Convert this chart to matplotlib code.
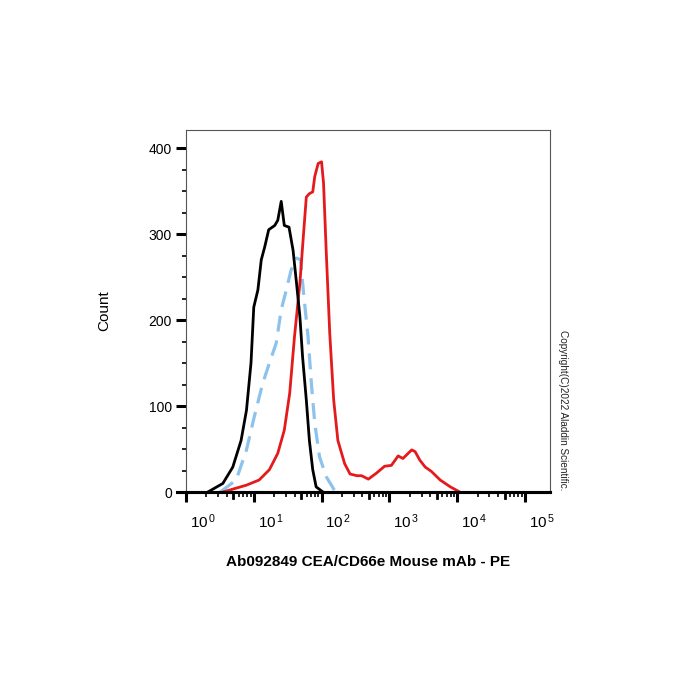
import matplotlib
matplotlib.use('Agg')
import matplotlib.pyplot as plt
import matplotlib.transforms as mtransforms
from matplotlib.ticker import FixedLocator, MultipleLocator, NullFormatter
import numpy as np

plt.rcParams['font.family'] = ['Liberation Sans', 'DejaVu Sans']

# isotype-like control (black)
black_x = [2.1, 3.5, 4.9, 6.5, 7.8, 9.1, 10, 11.5, 12.9, 14.5, 16.6, 20.4, 22.6, 25.4,
           28.2, 33.1, 38, 42.7, 47.9, 52.5, 59.6, 66.1, 74.1, 83.2, 105]
black_y = [0, 10, 29, 60, 95, 150, 215, 235, 270, 285, 305, 310, 316, 338,
           310, 308, 281, 243, 204, 157, 107, 60, 26, 6, 0]

# stained sample (red)
red_x = [3.5, 7.8, 12, 17, 22.6, 28.2, 33.9, 39.8, 47.9, 54.3, 59.6, 66.1, 74.1, 79.4,
         89.1, 100, 107, 117, 132, 151, 174, 219, 263, 331, 389, 490, 646, 851, 1072,
         1349, 1585, 2138, 2399, 2818, 3388, 4169, 5623, 7943, 10965]
red_y = [0, 8, 14, 26, 45, 72, 115, 180, 243, 301, 343, 347, 349, 367,
         382, 384, 359, 281, 185, 107, 60, 33, 21, 19, 19, 15, 22, 30, 31,
         42, 39, 49, 47, 37, 29, 24, 14, 6, 0]

# blank (blue dashed)
blue_x = [3.2, 5.5, 7.8, 10.2, 13.5, 17, 21.4, 25.4, 30.2, 35.5, 42.7, 49, 54.3,
          63.1, 70.8, 79.4, 93.3, 117, 155, 166]
blue_y = [0, 14, 49, 88, 126, 150, 173, 212, 235, 258, 272, 270, 231,
          181, 126, 80, 41, 18, 2, 0]

decades = [1, 10, 100, 1000, 10000, 100000]
decade_labels = [r'$\mathregular{10^{\,%d}}$' % k for k in range(6)]

fig = plt.figure(figsize=(7, 7), dpi=100)
ax = fig.add_axes([0.2657, 0.2971, 0.52, 0.5172])

ax.plot(blue_x, blue_y, color='#8cc2ec', lw=2.3, dashes=(5, 2.8), zorder=2)
ax.plot(red_x, red_y, color='#e41a1c', lw=2.0, zorder=3)
ax.plot(black_x, black_y, color='black', lw=2.0, zorder=4)

ax.set_xscale('log')
ax.set_xlim(1, 10 ** 5.37)
ax.set_ylim(0, 421)

ax.xaxis.set_major_locator(FixedLocator(decades))
ax.xaxis.set_major_formatter(NullFormatter())
minors = [m * d for d in decades[:-1] for m in (2, 3, 4, 6, 7, 8, 9)]
ax.xaxis.set_minor_locator(FixedLocator(minors))
ax.xaxis.set_minor_formatter(NullFormatter())

# decade labels sit to the right of their ticks, as in the cytometer export
label_tr = ax.get_xaxis_transform() + mtransforms.ScaledTranslation(17 / 100, -30 / 100, fig.dpi_scale_trans)
for d, txt in zip(decades, decade_labels):
    ax.text(d, 0, txt, transform=label_tr, ha='center', va='center', fontsize=11, clip_on=False)

# medium ticks at 5 x decade
for d in decades[:-1]:
    ax.axvline(5 * d, ymin=-0.016, ymax=0, color='black', lw=2.0, clip_on=False)

ax.yaxis.set_major_locator(MultipleLocator(100))
ax.yaxis.set_minor_locator(MultipleLocator(25))
ax.tick_params(axis='y', which='major', direction='out', length=7, width=2.2, labelsize=10, pad=3)
ax.tick_params(axis='y', which='minor', direction='out', length=3, width=1.2)
ax.tick_params(axis='x', which='major', direction='out', length=7, width=2.2)
ax.tick_params(axis='x', which='minor', direction='out', length=3.5, width=1.2)

for side in ['top', 'right', 'left']:
    ax.spines[side].set_color('#555555')
    ax.spines[side].set_linewidth(0.8)
ax.spines['bottom'].set_linewidth(2.2)
ax.axhline(0, xmin=-0.025, xmax=1, color='black', lw=2.2, clip_on=False, zorder=5)

ax.set_ylabel('Count', fontsize=11, labelpad=27)
ax.set_xlabel('Ab092849 CEA/CD66e Mouse mAb - PE', fontsize=11, fontweight='bold', labelpad=35)

fig.text(0.805, 0.414, 'Copyright(C)2022 Aladdin Scientific.', rotation=-90,
         fontsize=7.2, va='center', ha='center', color='#222222')

fig.savefig('out.png', dpi=100)
